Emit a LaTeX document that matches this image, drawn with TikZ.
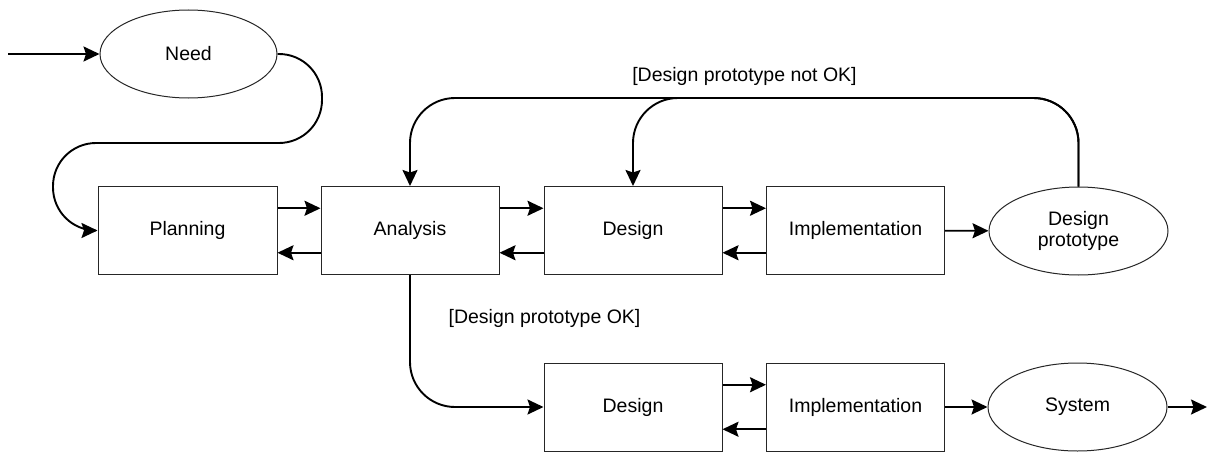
\documentclass[tikz,border=0pt]{standalone}
\usepackage{fontspec}
\setmainfont{Liberation Sans}
\usetikzlibrary{arrows.meta,calc,shapes.geometric}
\begin{document}
\begin{tikzpicture}[x=1pt,y=-1pt,
  font=\fontsize{19.5}{22}\selectfont,
  stage/.style={draw=black!85,line width=1pt,minimum width=178pt,minimum height=88pt,inner sep=0pt,fill=white},
  state/.style={ellipse,draw=black!85,line width=1pt,minimum width=179pt,minimum height=88pt,inner sep=0pt,fill=white,align=center},
  flow/.style={line width=1.9pt,-{Stealth[length=16pt,width=15pt,inset=2.5pt]}},
  guard/.style={inner sep=0pt}]
\useasboundingbox (0,0) rectangle (1207,452);

% states
\node[state,minimum width=177pt] (need) at (188.5,54) {Need};
\node[state] (proto) at (1078.5,231) {Design\\[-1pt]prototype};
\node[state] (system) at (1077.5,407) {System};

% stages of the first pass
\node[stage,minimum width=179pt] (plan) at (187.5,230.5) {Planning};
\node[stage] (ana) at (410,230.5) {Analysis};
\node[stage] (des) at (633,230.5) {Design};
\node[stage] (imp) at (855.5,230.5) {Implementation};

% stages of the final pass
\node[stage] (des2) at (633,407) {Design};
\node[stage] (imp2) at (855.5,407) {Implementation};

% entry and exit points
\coordinate (start) at (8,54);
\coordinate (finish) at (1207,407);

% guard labels
\node[guard] (notok) at (744.5,76) {[Design prototype not OK]};
\node[guard] (ok) at (544.5,318) {[Design prototype OK]};

% entry
\draw[flow] (start) -- (need.west);
\draw[flow,rounded corners=43pt] (need.east) -- (322,54) -- (322,143) -- (53,143) -- (53,230.5) -- (plan.west);

% forward/backward pairs between neighbouring stages
\foreach \a/\b in {plan/ana,ana/des,des/imp,des2/imp2}{
  \draw[flow] ($(\a.north east)!0.25!(\a.south east)$) -- ($(\b.north west)!0.25!(\b.south west)$);
  \draw[flow] ($(\b.north west)!0.75!(\b.south west)$) -- ($(\a.north east)!0.75!(\a.south east)$);
}

\draw[flow] (imp) -- (proto);
\draw[flow] (imp2) -- (system);
\draw[flow] (system) -- (finish);

% feedback when the prototype is rejected
\draw[flow,rounded corners=45pt] (proto.north) -- (proto.north |- 0,98) -- (ana.north |- 0,98) -- (ana.north);
\draw[flow,rounded corners=45pt] (proto.north) -- (proto.north |- 0,98) -- (des.north |- 0,98) -- (des.north);

% accepted prototype goes on to the final pass
\draw[flow,rounded corners=45pt] (ana.south) -- (ana.south |- des2.west) -- (des2.west);
\end{tikzpicture}
\end{document}
